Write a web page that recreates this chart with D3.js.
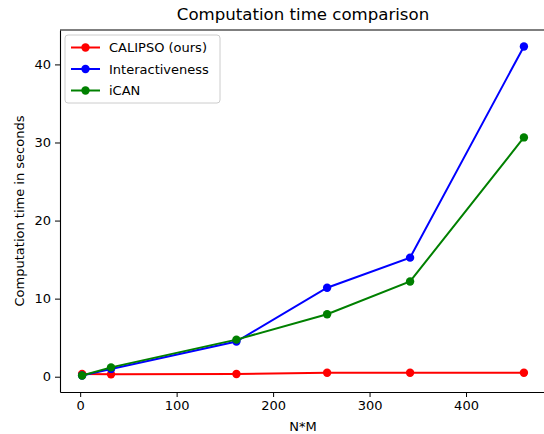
<!DOCTYPE html>
<html>
<head>
<meta charset="utf-8">
<script src="https://cdn.jsdelivr.net/npm/d3@7"></script>
<style>
  body { margin: 0; background: #fff; }
  text { font-family: "DejaVu Sans", sans-serif; fill: #000; }
</style>
</head>
<body>
<script>
// data
const nm = [2, 32, 162, 256, 342, 460];
const calipso = [0.35, 0.3, 0.35, 0.5, 0.5, 0.5];
const interactiveness = [0.15, 1.0, 4.5, 11.4, 15.25, 42.3];
const ican = [0.15, 1.2, 4.75, 8.0, 12.2, 30.65];
const seriesNames = ["CALIPSO (ours)", "Interactiveness", "iCAN"];
const seriesColors = ["#ff0000", "#0000ff", "#008000"];
const xTicks = [0, 100, 200, 300, 400];
const yTicks = [0, 10, 20, 30, 40];

const W = 544, H = 434;
const margin = { top: 30, right: -2, bottom: 42, left: 60 };

const svg = d3.select("body").append("svg")
  .attr("width", W)
  .attr("height", H);

// matplotlib-like 5% padding around the data
const allY = calipso.concat(interactiveness, ican);
const xPad = (d3.max(nm) - d3.min(nm)) * 0.05;
const yPad = (d3.max(allY) - d3.min(allY)) * 0.05;

const x = d3.scaleLinear()
  .domain([d3.min(nm) - xPad, d3.max(nm) + xPad])
  .range([margin.left, W - margin.right]);
const y = d3.scaleLinear()
  .domain([d3.min(allY) - yPad, d3.max(allY) + yPad])
  .range([H - margin.bottom, margin.top]);

// axes
const xAxis = svg.append("g")
  .attr("transform", `translate(0, ${H - margin.bottom})`)
  .call(d3.axisBottom(x).tickValues(xTicks).tickSize(5).tickPadding(4).tickSizeOuter(0));
const yAxis = svg.append("g")
  .attr("transform", `translate(${margin.left}, 0)`)
  .call(d3.axisLeft(y).tickValues(yTicks).tickSize(5).tickPadding(4).tickSizeOuter(0));

[xAxis, yAxis].forEach(g => {
  g.selectAll("text").style("font-size", "13px").style("fill", "#000");
  g.selectAll("line").attr("stroke", "#000").attr("stroke-width", 1);
  g.select(".domain").attr("stroke", "#000").attr("stroke-width", 1.1);
});

// top spine
svg.append("line")
  .attr("x1", margin.left).attr("x2", W - margin.right)
  .attr("y1", margin.top).attr("y2", margin.top)
  .attr("stroke", "#000").attr("stroke-width", 1.1);

// lines + markers
const allSeries = [calipso, interactiveness, ican];
const line = d3.line()
  .x((d, i) => x(nm[i]))
  .y(d => y(d));

allSeries.forEach((vals, k) => {
  svg.append("path")
    .datum(vals)
    .attr("fill", "none")
    .attr("stroke", seriesColors[k])
    .attr("stroke-width", 2)
    .attr("d", line);
  svg.append("g").selectAll("circle")
    .data(vals)
    .join("circle")
    .attr("cx", (d, i) => x(nm[i]))
    .attr("cy", d => y(d))
    .attr("r", 4.2)
    .attr("fill", seriesColors[k]);
});

// title and labels
svg.append("text")
  .attr("x", 303)
  .attr("y", 20)
  .attr("text-anchor", "middle")
  .style("font-size", "16.6px")
  .text("Computation time comparison");

svg.append("text")
  .attr("x", 303)
  .attr("y", 431)
  .attr("text-anchor", "middle")
  .style("font-size", "13px")
  .text("N*M");

svg.append("text")
  .attr("transform", `translate(24, ${(margin.top + H - margin.bottom) / 2}) rotate(-90)`)
  .attr("text-anchor", "middle")
  .style("font-size", "13px")
  .text("Computation time in seconds");

// legend
const legend = svg.append("g").attr("transform", "translate(65, 35)");
legend.append("rect")
  .attr("width", 155)
  .attr("height", 68)
  .attr("rx", 3)
  .attr("fill", "#fff")
  .attr("fill-opacity", 0.8)
  .attr("stroke", "#cccccc");

seriesNames.forEach((name, k) => {
  const ly = 12.5 + k * 21.5;
  legend.append("line")
    .attr("x1", 6).attr("x2", 35)
    .attr("y1", ly).attr("y2", ly)
    .attr("stroke", seriesColors[k])
    .attr("stroke-width", 2);
  legend.append("circle")
    .attr("cx", 20.5).attr("cy", ly)
    .attr("r", 4.2)
    .attr("fill", seriesColors[k]);
  legend.append("text")
    .attr("x", 44)
    .attr("y", ly + 4.5)
    .style("font-size", "13px")
    .text(name);
});
</script>
</body>
</html>
